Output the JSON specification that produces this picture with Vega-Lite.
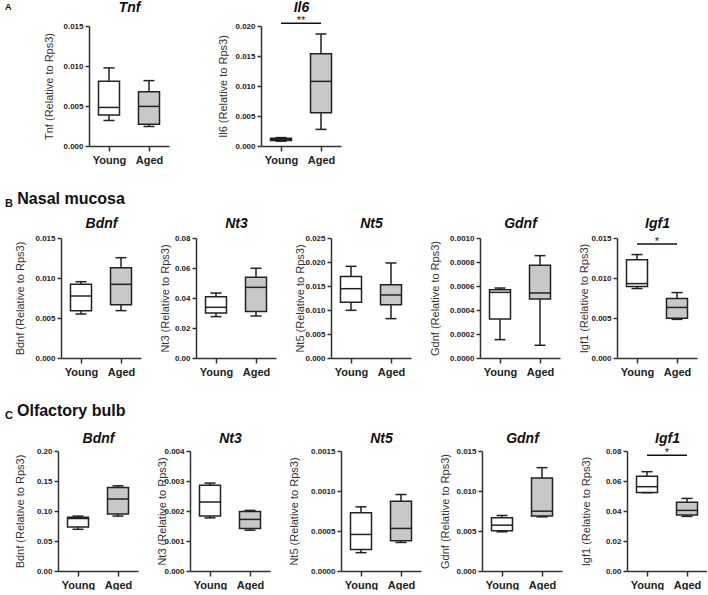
{
"$schema": "https://vega.github.io/schema/vega-lite/v6.json",
"padding": {"left": 5, "top": 0, "right": 0, "bottom": 0},
"config": {
  "font": "Liberation Sans",
  "view": {"stroke": null},
  "concat": {"spacing": 26},
  "title": {"fontSize": 16, "fontWeight": "bold", "color": "#111", "anchor": "start"},
  "axis": {"domainColor": "#333", "domainWidth": 1.5, "tickColor": "#333", "tickWidth": 1.5, "tickSize": 4, "labelFontWeight": "bold", "labelColor": "#222", "grid": false, "titleFontWeight": "normal", "titleColor": "#333", "titleFontSize": 11, "titlePadding": 2, "labelOverlap": false},
  "axisX": {"labelFontSize": 11, "labelPadding": 3, "tickSize": 5, "labelAngle": 0},
  "axisY": {"labelFontSize": 8, "labelPadding": 2},
  "axisTop": {"labels": false, "ticks": false, "domain": false, "titleFontSize": 14, "titleFontStyle": "italic", "titleFontWeight": "bold", "titleColor": "#111", "minExtent": 0, "maxExtent": 0},
  "tick": {"opacity": 1}
},
"vconcat": [
 {"spacing": 0, "title": {"text": "A", "fontSize": 9, "offset": -12},
  "hconcat": [
   {"width": 37.5, "height": 1, "data": {"values": []}, "mark": "point"},
   {"spacing": 48, "hconcat": [
     {"width": 80, "height": 120,
      "data": {"values": [
        {"group": "Young", "min": 0.00319, "q1": 0.00389, "med": 0.00482, "q3": 0.00809, "max": 0.00976},
        {"group": "Aged", "min": 0.00244, "q1": 0.00273, "med": 0.00495, "q3": 0.00678, "max": 0.00817}]},
      "resolve": {"axis": {"x": "independent", "y": "independent"}},
      "layer": [
        {"encoding": {"x": {"field": "group", "type": "nominal", "scale": {"type": "point", "domain": ["Young", "Aged"], "padding": 0.5}, "title": null}},
         "resolve": {"axis": {"y": "independent"}},
         "layer": [
          {"mark": {"type": "rule", "color": "#222", "strokeWidth": 1.5}, "encoding": {"y": {"field": "min", "type": "quantitative", "scale": {"domain": [0, 0.015], "nice": false}, "title": "Tnf (Relative to Rps3)", "axis": {"values": [0, 0.005, 0.01, 0.015], "format": ".3f", "minExtent": 32.5, "maxExtent": 32.5, "labelOverlap": false}}, "y2": {"field": "max"}}},
          {"mark": {"type": "bar", "width": 21, "stroke": "#222", "strokeWidth": 1.5}, "encoding": {"y": {"field": "q1", "type": "quantitative", "scale": {"domain": [0, 0.015], "nice": false}, "axis": null}, "y2": {"field": "q3"}, "fill": {"field": "group", "type": "nominal", "scale": {"domain": ["Young", "Aged"], "range": ["#ffffff", "#c8c8c8"]}, "legend": null}}},
          {"mark": {"type": "tick", "size": 11, "thickness": 1.5, "color": "#222"}, "encoding": {"y": {"field": "min", "type": "quantitative", "scale": {"domain": [0, 0.015], "nice": false}, "axis": null}}},
          {"mark": {"type": "tick", "size": 11, "thickness": 1.5, "color": "#222"}, "encoding": {"y": {"field": "max", "type": "quantitative", "scale": {"domain": [0, 0.015], "nice": false}, "axis": null}}}
         ]},
        {"mark": {"type": "tick", "size": 21, "thickness": 1.5, "color": "#222"},
         "encoding": {"x": {"field": "group", "type": "nominal", "scale": {"type": "point", "domain": ["Young", "Aged"], "padding": 0.5}, "axis": {"orient": "top", "title": "Tnf", "titlePadding": 12}}, "y": {"field": "med", "type": "quantitative", "scale": {"domain": [0, 0.015], "nice": false}, "axis": null}}}
      ]},
     {"width": 80, "height": 120,
      "data": {"values": [
        {"group": "Young", "min": 0.0008, "q1": 0.0009, "med": 0.0011, "q3": 0.0013, "max": 0.0014},
        {"group": "Aged", "min": 0.00277, "q1": 0.00553, "med": 0.01077, "q3": 0.01536, "max": 0.01867}]},
      "resolve": {"axis": {"x": "independent", "y": "independent"}},
      "layer": [
        {"encoding": {"x": {"field": "group", "type": "nominal", "scale": {"type": "point", "domain": ["Young", "Aged"], "padding": 0.5}, "title": null}},
         "resolve": {"axis": {"y": "independent"}},
         "layer": [
          {"mark": {"type": "rule", "color": "#222", "strokeWidth": 1.5}, "encoding": {"y": {"field": "min", "type": "quantitative", "scale": {"domain": [0, 0.02], "nice": false}, "title": "Il6 (Relative to Rps3)", "axis": {"values": [0, 0.005, 0.01, 0.015, 0.02], "format": ".3f", "minExtent": 31, "maxExtent": 31, "labelOverlap": false}}, "y2": {"field": "max"}}},
          {"mark": {"type": "bar", "width": 21, "stroke": "#222", "strokeWidth": 1.5}, "encoding": {"y": {"field": "q1", "type": "quantitative", "scale": {"domain": [0, 0.02], "nice": false}, "axis": null}, "y2": {"field": "q3"}, "fill": {"field": "group", "type": "nominal", "scale": {"domain": ["Young", "Aged"], "range": ["#ffffff", "#c8c8c8"]}, "legend": null}}},
          {"mark": {"type": "tick", "size": 11, "thickness": 1.5, "color": "#222"}, "encoding": {"y": {"field": "min", "type": "quantitative", "scale": {"domain": [0, 0.02], "nice": false}, "axis": null}}},
          {"mark": {"type": "tick", "size": 11, "thickness": 1.5, "color": "#222"}, "encoding": {"y": {"field": "max", "type": "quantitative", "scale": {"domain": [0, 0.02], "nice": false}, "axis": null}}},
          {"data": {"values": [{"from": "Young", "to": "Aged", "p": 0.02045, "label": "**"}]},
           "mark": {"type": "rule", "color": "#111", "strokeWidth": 1.5},
           "encoding": {"x": {"field": "from", "type": "nominal", "scale": {"type": "point", "domain": ["Young", "Aged"], "padding": 0.5}, "title": null}, "x2": {"field": "to"}, "y": {"field": "p", "type": "quantitative", "scale": {"domain": [0, 0.02], "nice": false}, "axis": null}}},
          {"data": {"values": [{"from": "Young", "to": "Aged", "p": 0.02045, "label": "**"}]},
           "mark": {"type": "text", "fontSize": 11, "dx": 20, "dy": -2, "baseline": "middle", "color": "#111"},
           "encoding": {"x": {"field": "from", "type": "nominal", "scale": {"type": "point", "domain": ["Young", "Aged"], "padding": 0.5}, "title": null}, "y": {"field": "p", "type": "quantitative", "scale": {"domain": [0, 0.02], "nice": false}, "axis": null}, "text": {"field": "label"}}}
         ]},
        {"mark": {"type": "tick", "size": 21, "thickness": 1.5, "color": "#222"},
         "encoding": {"x": {"field": "group", "type": "nominal", "scale": {"type": "point", "domain": ["Young", "Aged"], "padding": 0.5}, "axis": {"orient": "top", "title": "Il6", "titlePadding": 12}}, "y": {"field": "med", "type": "quantitative", "scale": {"domain": [0, 0.02], "nice": false}, "axis": null}}}
      ]}
   ]}
 ]},
 {"spacing": 0, "title": {"text": "B", "fontSize": 11, "offset": -17.5},
  "hconcat": [
   {"width": 9, "height": 1, "data": {"values": []}, "mark": "point"},
   {"spacing": 18, "title": {"text": "Nasal mucosa", "dx": 3, "offset": 9}, "hconcat": [
     {"width": 80, "height": 120,
      "data": {"values": [
        {"group": "Young", "min": 0.0055, "q1": 0.00592, "med": 0.00775, "q3": 0.00921, "max": 0.00954},
        {"group": "Aged", "min": 0.00592, "q1": 0.00667, "med": 0.00921, "q3": 0.01129, "max": 0.01254}]},
      "resolve": {"axis": {"x": "independent", "y": "independent"}},
      "layer": [
        {"encoding": {"x": {"field": "group", "type": "nominal", "scale": {"type": "point", "domain": ["Young", "Aged"], "padding": 0.5}, "title": null}},
         "resolve": {"axis": {"y": "independent"}},
         "layer": [
          {"mark": {"type": "rule", "color": "#222", "strokeWidth": 1.5}, "encoding": {"y": {"field": "min", "type": "quantitative", "scale": {"domain": [0, 0.015], "nice": false}, "title": "Bdnf (Relative to Rps3)", "axis": {"values": [0, 0.005, 0.01, 0.015], "format": ".3f", "minExtent": 33.7, "maxExtent": 33.7, "labelOverlap": false}}, "y2": {"field": "max"}}},
          {"mark": {"type": "bar", "width": 21, "stroke": "#222", "strokeWidth": 1.5}, "encoding": {"y": {"field": "q1", "type": "quantitative", "scale": {"domain": [0, 0.015], "nice": false}, "axis": null}, "y2": {"field": "q3"}, "fill": {"field": "group", "type": "nominal", "scale": {"domain": ["Young", "Aged"], "range": ["#ffffff", "#c8c8c8"]}, "legend": null}}},
          {"mark": {"type": "tick", "size": 11, "thickness": 1.5, "color": "#222"}, "encoding": {"y": {"field": "min", "type": "quantitative", "scale": {"domain": [0, 0.015], "nice": false}, "axis": null}}},
          {"mark": {"type": "tick", "size": 11, "thickness": 1.5, "color": "#222"}, "encoding": {"y": {"field": "max", "type": "quantitative", "scale": {"domain": [0, 0.015], "nice": false}, "axis": null}}}
         ]},
        {"mark": {"type": "tick", "size": 21, "thickness": 1.5, "color": "#222"},
         "encoding": {"x": {"field": "group", "type": "nominal", "scale": {"type": "point", "domain": ["Young", "Aged"], "padding": 0.5}, "axis": {"orient": "top", "title": "Bdnf", "titlePadding": 8}}, "y": {"field": "med", "type": "quantitative", "scale": {"domain": [0, 0.015], "nice": false}, "axis": null}}}
      ]},
     {"width": 80, "height": 120,
      "data": {"values": [
        {"group": "Young", "min": 0.0276, "q1": 0.030, "med": 0.0338, "q3": 0.0409, "max": 0.0433},
        {"group": "Aged", "min": 0.028, "q1": 0.031, "med": 0.0471, "q3": 0.0538, "max": 0.0598}]},
      "resolve": {"axis": {"x": "independent", "y": "independent"}},
      "layer": [
        {"encoding": {"x": {"field": "group", "type": "nominal", "scale": {"type": "point", "domain": ["Young", "Aged"], "padding": 0.5}, "title": null}},
         "resolve": {"axis": {"y": "independent"}},
         "layer": [
          {"mark": {"type": "rule", "color": "#222", "strokeWidth": 1.5}, "encoding": {"y": {"field": "min", "type": "quantitative", "scale": {"domain": [0, 0.08], "nice": false}, "title": "Nt3 (Relative to Rps3)", "axis": {"values": [0, 0.02, 0.04, 0.06, 0.08], "format": ".2f", "minExtent": 23.3, "maxExtent": 23.3, "labelOverlap": false}}, "y2": {"field": "max"}}},
          {"mark": {"type": "bar", "width": 21, "stroke": "#222", "strokeWidth": 1.5}, "encoding": {"y": {"field": "q1", "type": "quantitative", "scale": {"domain": [0, 0.08], "nice": false}, "axis": null}, "y2": {"field": "q3"}, "fill": {"field": "group", "type": "nominal", "scale": {"domain": ["Young", "Aged"], "range": ["#ffffff", "#c8c8c8"]}, "legend": null}}},
          {"mark": {"type": "tick", "size": 11, "thickness": 1.5, "color": "#222"}, "encoding": {"y": {"field": "min", "type": "quantitative", "scale": {"domain": [0, 0.08], "nice": false}, "axis": null}}},
          {"mark": {"type": "tick", "size": 11, "thickness": 1.5, "color": "#222"}, "encoding": {"y": {"field": "max", "type": "quantitative", "scale": {"domain": [0, 0.08], "nice": false}, "axis": null}}}
         ]},
        {"mark": {"type": "tick", "size": 21, "thickness": 1.5, "color": "#222"},
         "encoding": {"x": {"field": "group", "type": "nominal", "scale": {"type": "point", "domain": ["Young", "Aged"], "padding": 0.5}, "axis": {"orient": "top", "title": "Nt3", "titlePadding": 8}}, "y": {"field": "med", "type": "quantitative", "scale": {"domain": [0, 0.08], "nice": false}, "axis": null}}}
      ]},
     {"width": 80, "height": 120,
      "data": {"values": [
        {"group": "Young", "min": 0.00993, "q1": 0.0116, "med": 0.01444, "q3": 0.0170, "max": 0.0191},
        {"group": "Aged", "min": 0.0082, "q1": 0.0111, "med": 0.01313, "q3": 0.01528, "max": 0.0198}]},
      "resolve": {"axis": {"x": "independent", "y": "independent"}},
      "layer": [
        {"encoding": {"x": {"field": "group", "type": "nominal", "scale": {"type": "point", "domain": ["Young", "Aged"], "padding": 0.5}, "title": null}},
         "resolve": {"axis": {"y": "independent"}},
         "layer": [
          {"mark": {"type": "rule", "color": "#222", "strokeWidth": 1.5}, "encoding": {"y": {"field": "min", "type": "quantitative", "scale": {"domain": [0, 0.025], "nice": false}, "title": "Nt5 (Relative to Rps3)", "axis": {"values": [0, 0.005, 0.01, 0.015, 0.02, 0.025], "format": ".3f", "minExtent": 24, "maxExtent": 24, "labelOverlap": false}}, "y2": {"field": "max"}}},
          {"mark": {"type": "bar", "width": 21, "stroke": "#222", "strokeWidth": 1.5}, "encoding": {"y": {"field": "q1", "type": "quantitative", "scale": {"domain": [0, 0.025], "nice": false}, "axis": null}, "y2": {"field": "q3"}, "fill": {"field": "group", "type": "nominal", "scale": {"domain": ["Young", "Aged"], "range": ["#ffffff", "#c8c8c8"]}, "legend": null}}},
          {"mark": {"type": "tick", "size": 11, "thickness": 1.5, "color": "#222"}, "encoding": {"y": {"field": "min", "type": "quantitative", "scale": {"domain": [0, 0.025], "nice": false}, "axis": null}}},
          {"mark": {"type": "tick", "size": 11, "thickness": 1.5, "color": "#222"}, "encoding": {"y": {"field": "max", "type": "quantitative", "scale": {"domain": [0, 0.025], "nice": false}, "axis": null}}}
         ]},
        {"mark": {"type": "tick", "size": 21, "thickness": 1.5, "color": "#222"},
         "encoding": {"x": {"field": "group", "type": "nominal", "scale": {"type": "point", "domain": ["Young", "Aged"], "padding": 0.5}, "axis": {"orient": "top", "title": "Nt5", "titlePadding": 8}}, "y": {"field": "med", "type": "quantitative", "scale": {"domain": [0, 0.025], "nice": false}, "axis": null}}}
      ]},
     {"width": 80, "height": 120,
      "data": {"values": [
        {"group": "Young", "min": 0.000153, "q1": 0.000325, "med": 0.000547, "q3": 0.000569, "max": 0.000583},
        {"group": "Aged", "min": 0.000106, "q1": 0.000492, "med": 0.000542, "q3": 0.000772, "max": 0.000853}]},
      "resolve": {"axis": {"x": "independent", "y": "independent"}},
      "layer": [
        {"encoding": {"x": {"field": "group", "type": "nominal", "scale": {"type": "point", "domain": ["Young", "Aged"], "padding": 0.5}, "title": null}},
         "resolve": {"axis": {"y": "independent"}},
         "layer": [
          {"mark": {"type": "rule", "color": "#222", "strokeWidth": 1.5}, "encoding": {"y": {"field": "min", "type": "quantitative", "scale": {"domain": [0, 0.001], "nice": false}, "title": "Gdnf (Relative to Rps3)", "axis": {"values": [0, 0.0002, 0.0004, 0.0006, 0.0008, 0.001], "format": ".4f", "minExtent": 38, "maxExtent": 38, "labelOverlap": false}}, "y2": {"field": "max"}}},
          {"mark": {"type": "bar", "width": 21, "stroke": "#222", "strokeWidth": 1.5}, "encoding": {"y": {"field": "q1", "type": "quantitative", "scale": {"domain": [0, 0.001], "nice": false}, "axis": null}, "y2": {"field": "q3"}, "fill": {"field": "group", "type": "nominal", "scale": {"domain": ["Young", "Aged"], "range": ["#ffffff", "#c8c8c8"]}, "legend": null}}},
          {"mark": {"type": "tick", "size": 11, "thickness": 1.5, "color": "#222"}, "encoding": {"y": {"field": "min", "type": "quantitative", "scale": {"domain": [0, 0.001], "nice": false}, "axis": null}}},
          {"mark": {"type": "tick", "size": 11, "thickness": 1.5, "color": "#222"}, "encoding": {"y": {"field": "max", "type": "quantitative", "scale": {"domain": [0, 0.001], "nice": false}, "axis": null}}}
         ]},
        {"mark": {"type": "tick", "size": 21, "thickness": 1.5, "color": "#222"},
         "encoding": {"x": {"field": "group", "type": "nominal", "scale": {"type": "point", "domain": ["Young", "Aged"], "padding": 0.5}, "axis": {"orient": "top", "title": "Gdnf", "titlePadding": 8}}, "y": {"field": "med", "type": "quantitative", "scale": {"domain": [0, 0.001], "nice": false}, "axis": null}}}
      ]},
     {"width": 80, "height": 120,
      "data": {"values": [
        {"group": "Young", "min": 0.00868, "q1": 0.00893, "med": 0.0093, "q3": 0.01227, "max": 0.01293},
        {"group": "Aged", "min": 0.00483, "q1": 0.00496, "med": 0.00632, "q3": 0.00744, "max": 0.00818}]},
      "resolve": {"axis": {"x": "independent", "y": "independent"}},
      "layer": [
        {"encoding": {"x": {"field": "group", "type": "nominal", "scale": {"type": "point", "domain": ["Young", "Aged"], "padding": 0.5}, "title": null}},
         "resolve": {"axis": {"y": "independent"}},
         "layer": [
          {"mark": {"type": "rule", "color": "#222", "strokeWidth": 1.5}, "encoding": {"y": {"field": "min", "type": "quantitative", "scale": {"domain": [0, 0.015], "nice": false}, "title": "Igf1 (Relative to Rps3)", "axis": {"values": [0, 0.005, 0.01, 0.015], "format": ".3f", "minExtent": 26, "maxExtent": 26, "labelOverlap": false}}, "y2": {"field": "max"}}},
          {"mark": {"type": "bar", "width": 21, "stroke": "#222", "strokeWidth": 1.5}, "encoding": {"y": {"field": "q1", "type": "quantitative", "scale": {"domain": [0, 0.015], "nice": false}, "axis": null}, "y2": {"field": "q3"}, "fill": {"field": "group", "type": "nominal", "scale": {"domain": ["Young", "Aged"], "range": ["#ffffff", "#c8c8c8"]}, "legend": null}}},
          {"mark": {"type": "tick", "size": 11, "thickness": 1.5, "color": "#222"}, "encoding": {"y": {"field": "min", "type": "quantitative", "scale": {"domain": [0, 0.015], "nice": false}, "axis": null}}},
          {"mark": {"type": "tick", "size": 11, "thickness": 1.5, "color": "#222"}, "encoding": {"y": {"field": "max", "type": "quantitative", "scale": {"domain": [0, 0.015], "nice": false}, "axis": null}}},
          {"data": {"values": [{"from": "Young", "to": "Aged", "p": 0.01426, "label": "*"}]},
           "mark": {"type": "rule", "color": "#111", "strokeWidth": 1.5},
           "encoding": {"x": {"field": "from", "type": "nominal", "scale": {"type": "point", "domain": ["Young", "Aged"], "padding": 0.5}, "title": null}, "x2": {"field": "to"}, "y": {"field": "p", "type": "quantitative", "scale": {"domain": [0, 0.015], "nice": false}, "axis": null}}},
          {"data": {"values": [{"from": "Young", "to": "Aged", "p": 0.01426, "label": "*"}]},
           "mark": {"type": "text", "fontSize": 11, "dx": 20, "dy": -2, "baseline": "middle", "color": "#111"},
           "encoding": {"x": {"field": "from", "type": "nominal", "scale": {"type": "point", "domain": ["Young", "Aged"], "padding": 0.5}, "title": null}, "y": {"field": "p", "type": "quantitative", "scale": {"domain": [0, 0.015], "nice": false}, "axis": null}, "text": {"field": "label"}}}
         ]},
        {"mark": {"type": "tick", "size": 21, "thickness": 1.5, "color": "#222"},
         "encoding": {"x": {"field": "group", "type": "nominal", "scale": {"type": "point", "domain": ["Young", "Aged"], "padding": 0.5}, "axis": {"orient": "top", "title": "Igf1", "titlePadding": 8}}, "y": {"field": "med", "type": "quantitative", "scale": {"domain": [0, 0.015], "nice": false}, "axis": null}}}
      ]}
   ]}
 ]},
 {"spacing": 0, "title": {"text": "C", "fontSize": 11, "offset": -17.5},
  "hconcat": [
   {"width": 9, "height": 1, "data": {"values": []}, "mark": "point"},
   {"spacing": 18, "title": {"text": "Olfactory bulb", "dx": 3, "offset": 12}, "hconcat": [
     {"width": 80, "height": 120,
      "data": {"values": [
        {"group": "Young", "min": 0.0695, "q1": 0.0735, "med": 0.0875, "q3": 0.0895, "max": 0.0915},
        {"group": "Aged", "min": 0.0915, "q1": 0.095, "med": 0.120, "q3": 0.139, "max": 0.142}]},
      "resolve": {"axis": {"x": "independent", "y": "independent"}},
      "layer": [
        {"encoding": {"x": {"field": "group", "type": "nominal", "scale": {"type": "point", "domain": ["Young", "Aged"], "padding": 0.5}, "title": null}},
         "resolve": {"axis": {"y": "independent"}},
         "layer": [
          {"mark": {"type": "rule", "color": "#222", "strokeWidth": 1.5}, "encoding": {"y": {"field": "min", "type": "quantitative", "scale": {"domain": [0, 0.2], "nice": false}, "title": "Bdnf (Relative to Rps3)", "axis": {"values": [0, 0.05, 0.1, 0.15, 0.2], "format": ".2f", "minExtent": 31, "maxExtent": 31, "labelOverlap": false}}, "y2": {"field": "max"}}},
          {"mark": {"type": "bar", "width": 21, "stroke": "#222", "strokeWidth": 1.5}, "encoding": {"y": {"field": "q1", "type": "quantitative", "scale": {"domain": [0, 0.2], "nice": false}, "axis": null}, "y2": {"field": "q3"}, "fill": {"field": "group", "type": "nominal", "scale": {"domain": ["Young", "Aged"], "range": ["#ffffff", "#c8c8c8"]}, "legend": null}}},
          {"mark": {"type": "tick", "size": 11, "thickness": 1.5, "color": "#222"}, "encoding": {"y": {"field": "min", "type": "quantitative", "scale": {"domain": [0, 0.2], "nice": false}, "axis": null}}},
          {"mark": {"type": "tick", "size": 11, "thickness": 1.5, "color": "#222"}, "encoding": {"y": {"field": "max", "type": "quantitative", "scale": {"domain": [0, 0.2], "nice": false}, "axis": null}}}
         ]},
        {"mark": {"type": "tick", "size": 21, "thickness": 1.5, "color": "#222"},
         "encoding": {"x": {"field": "group", "type": "nominal", "scale": {"type": "point", "domain": ["Young", "Aged"], "padding": 0.5}, "axis": {"orient": "top", "title": "Bdnf", "titlePadding": 6}}, "y": {"field": "med", "type": "quantitative", "scale": {"domain": [0, 0.2], "nice": false}, "axis": null}}}
      ]},
     {"width": 80, "height": 120,
      "data": {"values": [
        {"group": "Young", "min": 0.00177, "q1": 0.00183, "med": 0.0023, "q3": 0.00286, "max": 0.00293},
        {"group": "Aged", "min": 0.00136, "q1": 0.00142, "med": 0.00172, "q3": 0.00198, "max": 0.00202}]},
      "resolve": {"axis": {"x": "independent", "y": "independent"}},
      "layer": [
        {"encoding": {"x": {"field": "group", "type": "nominal", "scale": {"type": "point", "domain": ["Young", "Aged"], "padding": 0.5}, "title": null}},
         "resolve": {"axis": {"y": "independent"}},
         "layer": [
          {"mark": {"type": "rule", "color": "#222", "strokeWidth": 1.5}, "encoding": {"y": {"field": "min", "type": "quantitative", "scale": {"domain": [0, 0.004], "nice": false}, "title": "Nt3 (Relative to Rps3)", "axis": {"values": [0, 0.001, 0.002, 0.003, 0.004], "format": ".3f", "minExtent": 21, "maxExtent": 21, "labelOverlap": false}}, "y2": {"field": "max"}}},
          {"mark": {"type": "bar", "width": 21, "stroke": "#222", "strokeWidth": 1.5}, "encoding": {"y": {"field": "q1", "type": "quantitative", "scale": {"domain": [0, 0.004], "nice": false}, "axis": null}, "y2": {"field": "q3"}, "fill": {"field": "group", "type": "nominal", "scale": {"domain": ["Young", "Aged"], "range": ["#ffffff", "#c8c8c8"]}, "legend": null}}},
          {"mark": {"type": "tick", "size": 11, "thickness": 1.5, "color": "#222"}, "encoding": {"y": {"field": "min", "type": "quantitative", "scale": {"domain": [0, 0.004], "nice": false}, "axis": null}}},
          {"mark": {"type": "tick", "size": 11, "thickness": 1.5, "color": "#222"}, "encoding": {"y": {"field": "max", "type": "quantitative", "scale": {"domain": [0, 0.004], "nice": false}, "axis": null}}}
         ]},
        {"mark": {"type": "tick", "size": 21, "thickness": 1.5, "color": "#222"},
         "encoding": {"x": {"field": "group", "type": "nominal", "scale": {"type": "point", "domain": ["Young", "Aged"], "padding": 0.5}, "axis": {"orient": "top", "title": "Nt3", "titlePadding": 6}}, "y": {"field": "med", "type": "quantitative", "scale": {"domain": [0, 0.004], "nice": false}, "axis": null}}}
      ]},
     {"width": 80, "height": 120,
      "data": {"values": [
        {"group": "Young", "min": 0.000229, "q1": 0.00027, "med": 0.000457, "q3": 0.000727, "max": 0.000802},
        {"group": "Aged", "min": 0.000357, "q1": 0.000378, "med": 0.000532, "q3": 0.000873, "max": 0.000956}]},
      "resolve": {"axis": {"x": "independent", "y": "independent"}},
      "layer": [
        {"encoding": {"x": {"field": "group", "type": "nominal", "scale": {"type": "point", "domain": ["Young", "Aged"], "padding": 0.5}, "title": null}},
         "resolve": {"axis": {"y": "independent"}},
         "layer": [
          {"mark": {"type": "rule", "color": "#222", "strokeWidth": 1.5}, "encoding": {"y": {"field": "min", "type": "quantitative", "scale": {"domain": [0, 0.0015], "nice": false}, "title": "Nt5 (Relative to Rps3)", "axis": {"values": [0, 0.0005, 0.001, 0.0015], "format": ".4f", "minExtent": 40, "maxExtent": 40, "labelOverlap": false}}, "y2": {"field": "max"}}},
          {"mark": {"type": "bar", "width": 21, "stroke": "#222", "strokeWidth": 1.5}, "encoding": {"y": {"field": "q1", "type": "quantitative", "scale": {"domain": [0, 0.0015], "nice": false}, "axis": null}, "y2": {"field": "q3"}, "fill": {"field": "group", "type": "nominal", "scale": {"domain": ["Young", "Aged"], "range": ["#ffffff", "#c8c8c8"]}, "legend": null}}},
          {"mark": {"type": "tick", "size": 11, "thickness": 1.5, "color": "#222"}, "encoding": {"y": {"field": "min", "type": "quantitative", "scale": {"domain": [0, 0.0015], "nice": false}, "axis": null}}},
          {"mark": {"type": "tick", "size": 11, "thickness": 1.5, "color": "#222"}, "encoding": {"y": {"field": "max", "type": "quantitative", "scale": {"domain": [0, 0.0015], "nice": false}, "axis": null}}}
         ]},
        {"mark": {"type": "tick", "size": 21, "thickness": 1.5, "color": "#222"},
         "encoding": {"x": {"field": "group", "type": "nominal", "scale": {"type": "point", "domain": ["Young", "Aged"], "padding": 0.5}, "axis": {"orient": "top", "title": "Nt5", "titlePadding": 6}}, "y": {"field": "med", "type": "quantitative", "scale": {"domain": [0, 0.0015], "nice": false}, "axis": null}}}
      ]},
     {"width": 80, "height": 120,
      "data": {"values": [
        {"group": "Young", "min": 0.0049, "q1": 0.00503, "med": 0.00573, "q3": 0.00665, "max": 0.00694},
        {"group": "Aged", "min": 0.00677, "q1": 0.00686, "med": 0.00748, "q3": 0.01163, "max": 0.01292}]},
      "resolve": {"axis": {"x": "independent", "y": "independent"}},
      "layer": [
        {"encoding": {"x": {"field": "group", "type": "nominal", "scale": {"type": "point", "domain": ["Young", "Aged"], "padding": 0.5}, "title": null}},
         "resolve": {"axis": {"y": "independent"}},
         "layer": [
          {"mark": {"type": "rule", "color": "#222", "strokeWidth": 1.5}, "encoding": {"y": {"field": "min", "type": "quantitative", "scale": {"domain": [0, 0.015], "nice": false}, "title": "Gdnf (Relative to Rps3)", "axis": {"values": [0, 0.005, 0.01, 0.015], "format": ".3f", "minExtent": 30, "maxExtent": 30, "labelOverlap": false}}, "y2": {"field": "max"}}},
          {"mark": {"type": "bar", "width": 21, "stroke": "#222", "strokeWidth": 1.5}, "encoding": {"y": {"field": "q1", "type": "quantitative", "scale": {"domain": [0, 0.015], "nice": false}, "axis": null}, "y2": {"field": "q3"}, "fill": {"field": "group", "type": "nominal", "scale": {"domain": ["Young", "Aged"], "range": ["#ffffff", "#c8c8c8"]}, "legend": null}}},
          {"mark": {"type": "tick", "size": 11, "thickness": 1.5, "color": "#222"}, "encoding": {"y": {"field": "min", "type": "quantitative", "scale": {"domain": [0, 0.015], "nice": false}, "axis": null}}},
          {"mark": {"type": "tick", "size": 11, "thickness": 1.5, "color": "#222"}, "encoding": {"y": {"field": "max", "type": "quantitative", "scale": {"domain": [0, 0.015], "nice": false}, "axis": null}}}
         ]},
        {"mark": {"type": "tick", "size": 21, "thickness": 1.5, "color": "#222"},
         "encoding": {"x": {"field": "group", "type": "nominal", "scale": {"type": "point", "domain": ["Young", "Aged"], "padding": 0.5}, "axis": {"orient": "top", "title": "Gdnf", "titlePadding": 6}}, "y": {"field": "med", "type": "quantitative", "scale": {"domain": [0, 0.015], "nice": false}, "axis": null}}}
      ]},
     {"width": 80, "height": 120,
      "data": {"values": [
        {"group": "Young", "min": 0.0522, "q1": 0.0524, "med": 0.0562, "q3": 0.0631, "max": 0.0662},
        {"group": "Aged", "min": 0.0364, "q1": 0.0373, "med": 0.0404, "q3": 0.0458, "max": 0.0484}]},
      "resolve": {"axis": {"x": "independent", "y": "independent"}},
      "layer": [
        {"encoding": {"x": {"field": "group", "type": "nominal", "scale": {"type": "point", "domain": ["Young", "Aged"], "padding": 0.5}, "title": null}},
         "resolve": {"axis": {"y": "independent"}},
         "layer": [
          {"mark": {"type": "rule", "color": "#222", "strokeWidth": 1.5}, "encoding": {"y": {"field": "min", "type": "quantitative", "scale": {"domain": [0, 0.08], "nice": false}, "title": "Igf1 (Relative to Rps3)", "axis": {"values": [0, 0.02, 0.04, 0.06, 0.08], "format": ".2f", "minExtent": 34, "maxExtent": 34, "labelOverlap": false}}, "y2": {"field": "max"}}},
          {"mark": {"type": "bar", "width": 21, "stroke": "#222", "strokeWidth": 1.5}, "encoding": {"y": {"field": "q1", "type": "quantitative", "scale": {"domain": [0, 0.08], "nice": false}, "axis": null}, "y2": {"field": "q3"}, "fill": {"field": "group", "type": "nominal", "scale": {"domain": ["Young", "Aged"], "range": ["#ffffff", "#c8c8c8"]}, "legend": null}}},
          {"mark": {"type": "tick", "size": 11, "thickness": 1.5, "color": "#222"}, "encoding": {"y": {"field": "min", "type": "quantitative", "scale": {"domain": [0, 0.08], "nice": false}, "axis": null}}},
          {"mark": {"type": "tick", "size": 11, "thickness": 1.5, "color": "#222"}, "encoding": {"y": {"field": "max", "type": "quantitative", "scale": {"domain": [0, 0.08], "nice": false}, "axis": null}}},
          {"data": {"values": [{"from": "Young", "to": "Aged", "p": 0.0771, "label": "*"}]},
           "mark": {"type": "rule", "color": "#111", "strokeWidth": 1.5},
           "encoding": {"x": {"field": "from", "type": "nominal", "scale": {"type": "point", "domain": ["Young", "Aged"], "padding": 0.5}, "title": null}, "x2": {"field": "to"}, "y": {"field": "p", "type": "quantitative", "scale": {"domain": [0, 0.08], "nice": false}, "axis": null}}},
          {"data": {"values": [{"from": "Young", "to": "Aged", "p": 0.0771, "label": "*"}]},
           "mark": {"type": "text", "fontSize": 11, "dx": 20, "dy": -2, "baseline": "middle", "color": "#111"},
           "encoding": {"x": {"field": "from", "type": "nominal", "scale": {"type": "point", "domain": ["Young", "Aged"], "padding": 0.5}, "title": null}, "y": {"field": "p", "type": "quantitative", "scale": {"domain": [0, 0.08], "nice": false}, "axis": null}, "text": {"field": "label"}}}
         ]},
        {"mark": {"type": "tick", "size": 21, "thickness": 1.5, "color": "#222"},
         "encoding": {"x": {"field": "group", "type": "nominal", "scale": {"type": "point", "domain": ["Young", "Aged"], "padding": 0.5}, "axis": {"orient": "top", "title": "Igf1", "titlePadding": 6}}, "y": {"field": "med", "type": "quantitative", "scale": {"domain": [0, 0.08], "nice": false}, "axis": null}}}
      ]}
   ]}
 ]}
]
}
